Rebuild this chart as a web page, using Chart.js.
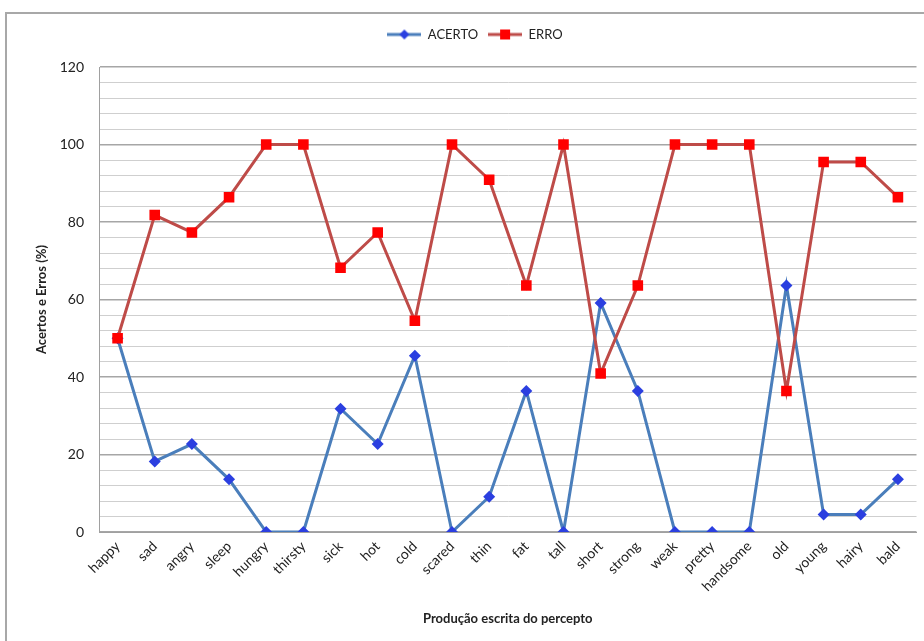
<!DOCTYPE html>
<html>
<head>
<meta charset="utf-8">
<script src="https://cdn.jsdelivr.net/npm/chart.js@4/dist/chart.umd.min.js"></script>
<style>
	body { margin: 0; background: #fff; }
	#frame { position: absolute; left: 5px; top: 12px; width: 940px; height: 650px; border: 2px solid #a8a8a8; }
	#wrap { position: absolute; left: 0; top: 0; width: 924px; height: 641px; }
</style>
</head>
<body>
<div id="frame"></div>
<div id="wrap"><canvas id="chart-percepto"></canvas></div>
<script>
var categories = ['happy', 'sad', 'angry', 'sleep', 'hungry', 'thirsty', 'sick', 'hot', 'cold', 'scared', 'thin',
	'fat', 'tall', 'short', 'strong', 'weak', 'pretty', 'handsome', 'old', 'young', 'hairy', 'bald'];
var acerto = [50, 18.2, 22.7, 13.6, 0, 0, 31.8, 22.7, 45.5, 0, 9.1, 36.4, 0, 59.1, 36.4, 0, 0, 0, 63.6, 4.5, 4.5, 13.6];
var erro = [50, 81.8, 77.3, 86.4, 100, 100, 68.2, 77.3, 54.5, 100, 90.9, 63.6, 100, 40.9, 63.6, 100, 100, 100, 36.4, 95.5, 95.5, 86.4];
var y_ticks = [0, 20, 40, 60, 80, 100, 120];

var font_main = 'Lato, "Noto Sans", sans-serif';

/* legend icon: line with marker */
function legend_icon(line_color, marker_color, shape) {
	var c = document.createElement('canvas');
	c.width = 34;
	c.height = 12;
	var g = c.getContext('2d');
	g.strokeStyle = line_color;
	g.lineWidth = 3;
	g.beginPath();
	g.moveTo(0, 6);
	g.lineTo(34, 6);
	g.stroke();
	g.fillStyle = marker_color;
	if (shape === 'diamond') {
		g.beginPath();
		g.moveTo(17, 1);
		g.lineTo(22, 6);
		g.lineTo(17, 11);
		g.lineTo(12, 6);
		g.closePath();
		g.fill();
	} else {
		g.fillRect(12, 1, 10, 10);
	}
	return c;
}

var icon_acerto = legend_icon('#4a7ebb', '#2b3fe0', 'diamond');
var icon_erro = legend_icon('#be4b48', '#ff0000', 'square');

/* extra space under the legend */
var legend_gap = {
	id: 'legend_gap',
	beforeInit: function (chart) {
		var fit = chart.legend.fit;
		chart.legend.fit = function () {
			fit.bind(chart.legend)();
			this.height += 16;
		};
	}
};

var ctx = document.getElementById('chart-percepto').getContext('2d');
new Chart(ctx, {
	type: 'line',
	data: {
		labels: categories,
		datasets: [{
			label: 'ACERTO',
			data: acerto,
			borderColor: '#4a7ebb',
			backgroundColor: '#2b3fe0',
			borderWidth: 3,
			pointStyle: 'rectRot',
			pointRadius: 6,
			pointBorderWidth: 0,
			pointBackgroundColor: '#2b3fe0',
			lineTension: 0,
			order: 1
		}, {
			label: 'ERRO',
			data: erro,
			borderColor: '#be4b48',
			backgroundColor: '#ff0000',
			borderWidth: 3,
			pointStyle: 'rect',
			pointRadius: 7.5,
			pointBorderWidth: 0,
			pointBackgroundColor: '#ff0000',
			lineTension: 0,
			order: 0
		}]
	},
	options: {
		responsive: true,
		maintainAspectRatio: false,
		animation: false,
		layout: {
			padding: { left: 30, right: 4, top: 18, bottom: 10 }
		},
		plugins: {
			tooltip: { enabled: false },
			legend: {
				display: true,
				position: 'top',
				labels: {
					usePointStyle: true,
					pointStyleWidth: 34,
					boxHeight: 12,
					padding: 10,
					color: '#222',
					font: { family: font_main, size: 13 },
					sort: function (a, b) { return a.datasetIndex - b.datasetIndex; },
					generateLabels: function (chart) {
						return chart.data.datasets.map(function (ds, i) {
							return {
								text: ds.label,
								pointStyle: i === 0 ? icon_acerto : icon_erro,
								fillStyle: ds.borderColor,
								strokeStyle: ds.borderColor,
								lineWidth: 0,
								fontColor: '#222',
								datasetIndex: i,
								hidden: false
							};
						});
					}
				}
			}
		},
		scales: {
			x: {
				offset: true,
				grid: { display: false, drawTicks: false },
				border: { display: true, color: '#a0a0a0', width: 1 },
				ticks: {
					autoSkip: false,
					maxRotation: 45,
					minRotation: 45,
					padding: 6,
					color: '#222',
					font: { family: font_main, size: 14 }
				},
				title: {
					display: true,
					text: 'Produção escrita do percepto',
					color: '#222',
					font: { family: font_main, size: 13, weight: 'bold' }
				},
				afterFit: function (scale) {
					scale.height = 99;
				}
			},
			y: {
				min: 0,
				max: 120,
				grid: {
					drawTicks: false,
					color: function (c) {
						return y_ticks.indexOf(c.tick.value) >= 0 ? '#a6a6a6' : '#cfcfcf';
					},
					lineWidth: function (c) {
						return y_ticks.indexOf(c.tick.value) >= 0 ? 1.5 : 1;
					}
				},
				border: { display: true, color: '#a0a0a0', width: 1 },
				ticks: {
					stepSize: 4,
					maxTicksLimit: 40,
					autoSkip: false,
					padding: 15,
					color: '#222',
					font: { family: font_main, size: 14 },
					callback: function (v) {
						return y_ticks.indexOf(v) >= 0 ? v : '';
					}
				},
				title: {
					display: true,
					text: 'Acertos e Erros (%)',
					color: '#222',
					font: { family: font_main, size: 13, weight: 'bold' }
				},
				afterFit: function (scale) {
					scale.width = 69;
				}
			}
		}
	},
	plugins: [legend_gap]
});
</script>
</body>
</html>
